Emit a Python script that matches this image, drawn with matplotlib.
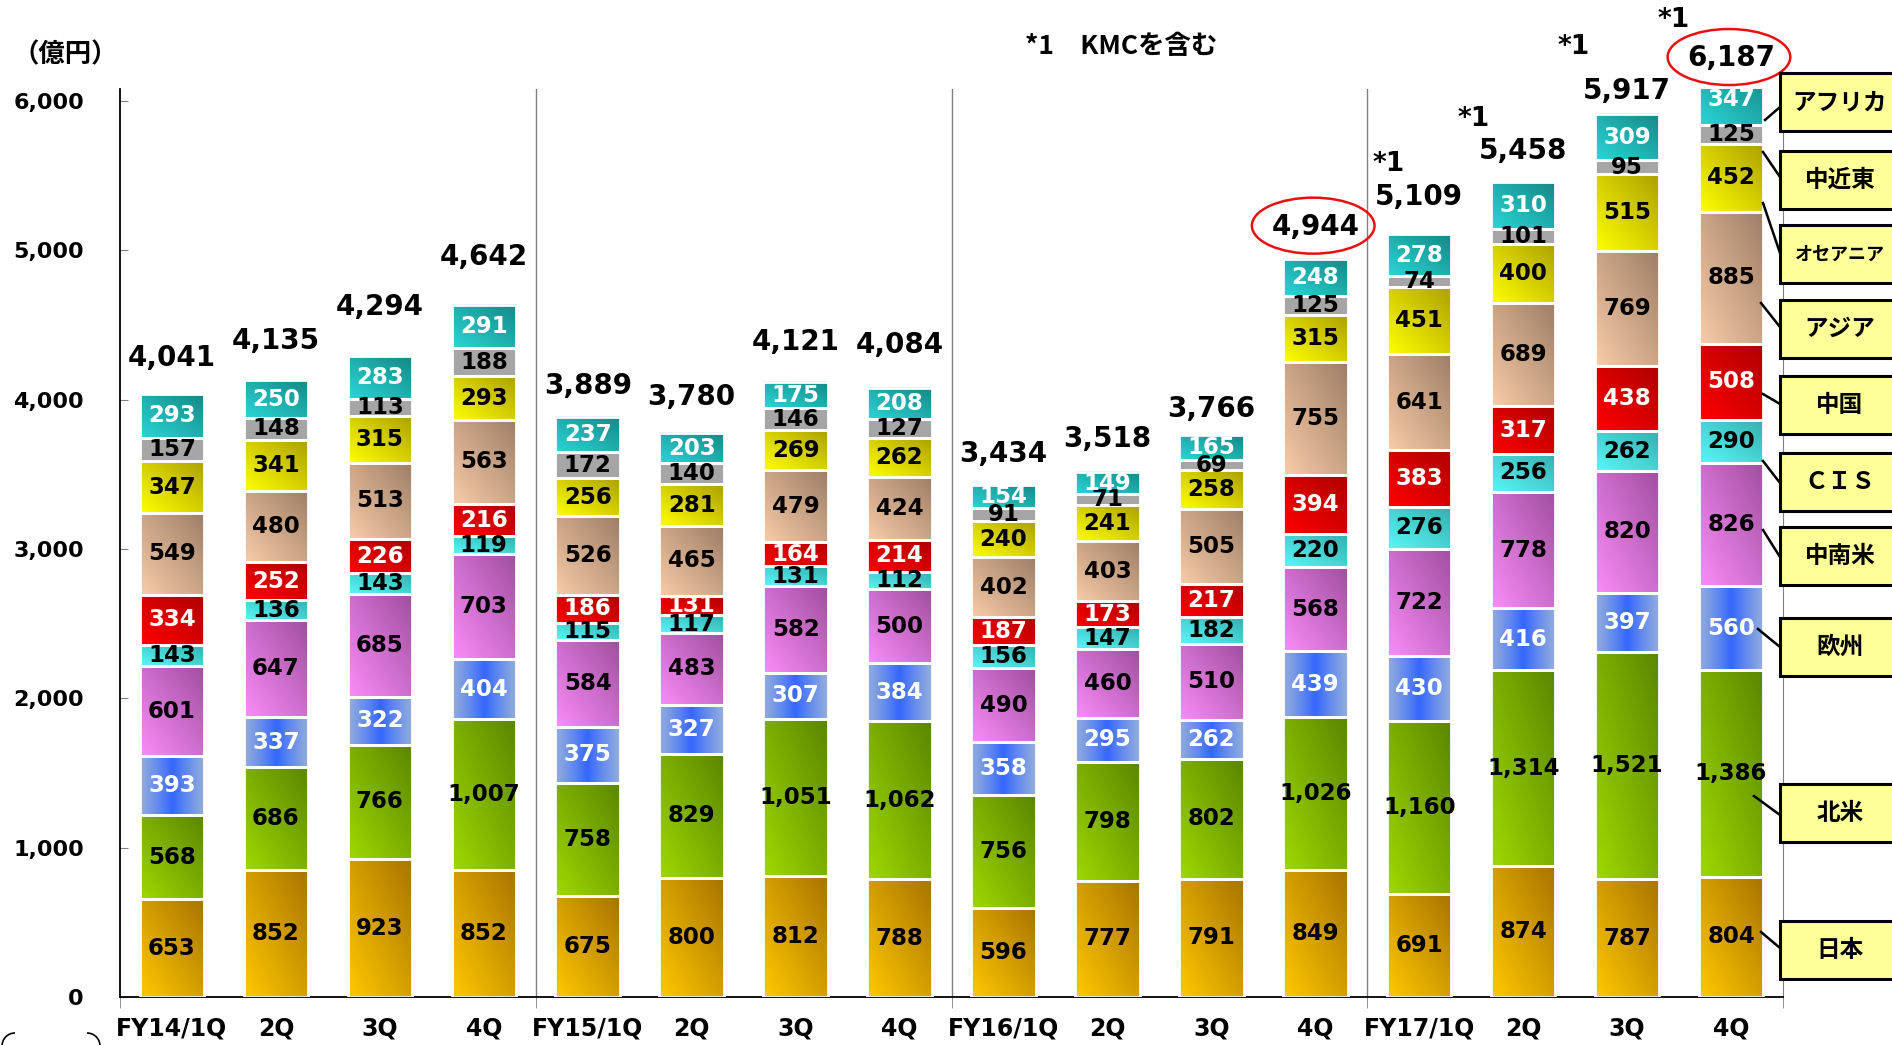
import numpy as np
import matplotlib.pyplot as plt
from matplotlib.patches import Rectangle, Ellipse, Arc
from matplotlib.lines import Line2D
from matplotlib.colors import to_rgb

plt.rcParams['font.family'] = ['DejaVu Sans', 'Noto Sans CJK JP']
JP = ['Noto Sans CJK JP', 'DejaVu Sans']

# ---- data (億円) ----
quarters = ['FY14/1Q', '2Q', '3Q', '4Q', 'FY15/1Q', '2Q', '3Q', '4Q',
            'FY16/1Q', '2Q', '3Q', '4Q', 'FY17/1Q', '2Q', '3Q', '4Q']
japan = [653, 852, 923, 852, 675, 800, 812, 788, 596, 777, 791, 849, 691, 874, 787, 804]
north_america = [568, 686, 766, 1007, 758, 829, 1051, 1062, 756, 798, 802, 1026, 1160, 1314, 1521, 1386]
europe = [393, 337, 322, 404, 375, 327, 307, 384, 358, 295, 262, 439, 430, 416, 397, 560]
latin_america = [601, 647, 685, 703, 584, 483, 582, 500, 490, 460, 510, 568, 722, 778, 820, 826]
cis = [143, 136, 143, 119, 115, 117, 131, 112, 156, 147, 182, 220, 276, 256, 262, 290]
china = [334, 252, 226, 216, 186, 131, 164, 214, 187, 173, 217, 394, 383, 317, 438, 508]
asia = [549, 480, 513, 563, 526, 465, 479, 424, 402, 403, 505, 755, 641, 689, 769, 885]
oceania = [347, 341, 315, 293, 256, 281, 269, 262, 240, 241, 258, 315, 451, 400, 515, 452]
middle_east = [157, 148, 113, 188, 172, 140, 146, 127, 91, 71, 69, 125, 74, 101, 95, 125]
africa = [293, 250, 283, 291, 237, 203, 175, 208, 154, 149, 165, 248, 278, 310, 309, 347]
totals = [4041, 4135, 4294, 4642, 3889, 3780, 4121, 4084, 3434, 3518, 3766, 4944, 5109, 5458, 5917, 6187]
kmc_bars = [12, 13, 14, 15]        # *1 KMCを含む
circled_bars = [11, 15]

series = [japan, north_america, europe, latin_america, cis, china, asia, oceania, middle_east, africa]
region_names = ['日本', '北米', '欧州', '中南米', 'ＣＩＳ', '中国', 'アジア', 'オセアニア', '中近東', 'アフリカ']

# ---- styles ----
# (gradient start, gradient end, mode, label colour)
styles = [
    ('#FFC800', '#A87400', 'diag', 'black'),
    ('#9ED800', '#5A8600', 'diag', 'black'),
    ('#3366FF', '#94AEDC', 'mid', 'white'),
    ('#FA8CF8', '#A04FA0', 'diag', 'black'),
    ('#58F8F8', '#36AEAE', 'diag', 'black'),
    ('#FF0000', '#AE0000', 'diag', 'white'),
    ('#F8CCA8', '#9E7E66', 'diag', 'black'),
    ('#FFFF00', '#ACA000', 'diag', 'black'),
    ('#A6A6A6', '#A6A6A6', 'diag', 'black'),
    ('#2AD6D6', '#158886', 'diag', 'white'),
]

W, H = 1892, 1045
YMAX = 6080
fig = plt.figure(figsize=(W / 100, H / 100), dpi=100)
ax_l, ax_r, ax_b, ax_t = 120, 1783, 997, 89
ax = fig.add_axes([ax_l / W, 1 - ax_b / H, (ax_r - ax_l) / W, (ax_b - ax_t) / H])
px_per_unit = (ax_b - ax_t) / YMAX
px_per_slot = (ax_r - ax_l) / len(quarters)


def gradient(c0, c1, mode, n=40):
    u = np.linspace(0, 1, n)
    U, V = np.meshgrid(u, u)
    if mode == 'mid':
        t = np.abs(2 * U - 1) ** 0.9
    else:
        t = (U + V) / 2
    a, b = np.array(to_rgb(c0)), np.array(to_rgb(c1))
    return a * (1 - t[..., None]) + b * t[..., None]


x = np.arange(len(quarters)) + 0.5
bw = 0.62
bottom = np.zeros(len(quarters))
for vals, (c0, c1, mode, tc) in zip(series, styles):
    vals = np.array(vals)
    bars = ax.bar(x, vals, bw, bottom=bottom, facecolor='none',
                  edgecolor='white', linewidth=2, zorder=3)
    img = gradient(c0, c1, mode)
    for rect, v in zip(bars, vals):
        x0, y0 = rect.get_x(), rect.get_y()
        ax.imshow(img, extent=(x0, x0 + bw, y0, y0 + v), origin='lower',
                  aspect='auto', interpolation='bilinear', zorder=2)
        ax.text(x0 + bw / 2, y0 + v / 2, f'{v:,}', ha='center', va='center',
                fontsize=16.5, fontweight='bold', color=tc, zorder=4)
    bottom += vals

# totals
total_pad_px = [36, 38, 49, 47, 30, 35, 40, 42, 30, 33, 26, 32, 37, 31, 22, 15]
kmc_dx = [-31, -49, -53, -57]
kmc_dy = [33, 32, 44, 38]
for i, (xi, t) in enumerate(zip(x, totals)):
    ly = t + total_pad_px[i] / px_per_unit
    ax.text(xi, ly, f'{t:,}', ha='center', va='center', fontsize=20,
            fontweight='bold', clip_on=False, zorder=5)
    if i in kmc_bars:
        k = kmc_bars.index(i)
        ax.text(xi + kmc_dx[k] / px_per_slot, ly + kmc_dy[k] / px_per_unit, '*1',
                ha='center', va='center', fontsize=19, fontweight='bold', clip_on=False)
    if i in circled_bars:
        ax.add_patch(Ellipse((xi - 0.02, ly + 1 / px_per_unit), 1.18, 56 / px_per_unit,
                             facecolor='none', edgecolor='#E81010', linewidth=1.8,
                             clip_on=False, zorder=5))

ax.set_xlim(0, len(quarters))
ax.set_ylim(0, YMAX)

# axes styling
for i in [4, 8, 12]:
    ax.axvline(i, color='#808080', linewidth=1, zorder=1)
ax.spines['top'].set_visible(False)
ax.spines['right'].set_color('#808080')
ax.spines['left'].set_linewidth(1.3)
ax.spines['bottom'].set_linewidth(1.3)

ax.set_yticks(range(0, 6001, 1000))
ax.set_yticklabels([f'{v:,}' for v in range(0, 6001, 1000)], fontsize=16, fontweight='bold')
ax.tick_params(axis='y', direction='in', length=6, color='#808080', pad=26)

ax.set_xticks(x)
ax.set_xticklabels(quarters, fontsize=17, fontweight='bold')
ax.tick_params(axis='x', which='major', length=0, pad=14)
ax.set_xticks([0, 4, 8, 12, 16], minor=True)
ax.tick_params(axis='x', which='minor', direction='out', length=8, color='#808080')

# texts
fig.text(12 / W, 1 - 55 / H, '（億円）', fontsize=19, fontweight='bold',
         family=JP, ha='left', va='center')
fig.text(1025 / W, 1 - 47 / H, '*1　KMCを含む', fontsize=19, fontweight='bold',
         family=JP, ha='left', va='center')

# cut-off bracket shape at bottom left
for cx, t1, t2 in [(15, 90, 180), (87, 0, 90)]:
    fig.add_artist(Arc((cx / W, 1 - 1046 / H), 26 / W, 26 / H, theta1=t1, theta2=t2,
                       transform=fig.transFigure, color='black', linewidth=1.2))

# region callout boxes (figure pixels)
box_top = [921, 784, 618, 527, 453, 376, 300, 225, 151, 73]
box_h = 58
leader = [((1761, 932), (1780, 948)), ((1754, 796), (1780, 815)),
          ((1758, 629), (1780, 647)), ((1763, 530), (1780, 557)),
          ((1763, 461), (1780, 483)), ((1763, 394), (1780, 404)),
          ((1761, 303), (1780, 327)), ((1763, 203), (1780, 253)),
          ((1763, 152), (1780, 177)), ((1765, 120), (1780, 107))]
for name, top, (p0, p1) in zip(region_names, box_top, leader):
    fig.add_artist(Rectangle((1780 / W, 1 - (top + box_h) / H), 130 / W, box_h / H,
                             transform=fig.transFigure, facecolor='#FFFF99',
                             edgecolor='black', linewidth=2.2, zorder=6))
    fig.add_artist(Line2D([p0[0] / W, p1[0] / W], [1 - p0[1] / H, 1 - p1[1] / H],
                          transform=fig.transFigure, color='black', linewidth=1.8, zorder=6))
    fs = 13 if name == 'オセアニア' else 17
    fig.text(1840 / W, 1 - (top + box_h / 2) / H, name, fontsize=fs, fontweight='bold',
             family=JP, ha='center', va='center', zorder=7)

fig.savefig('out.png', dpi=100)
